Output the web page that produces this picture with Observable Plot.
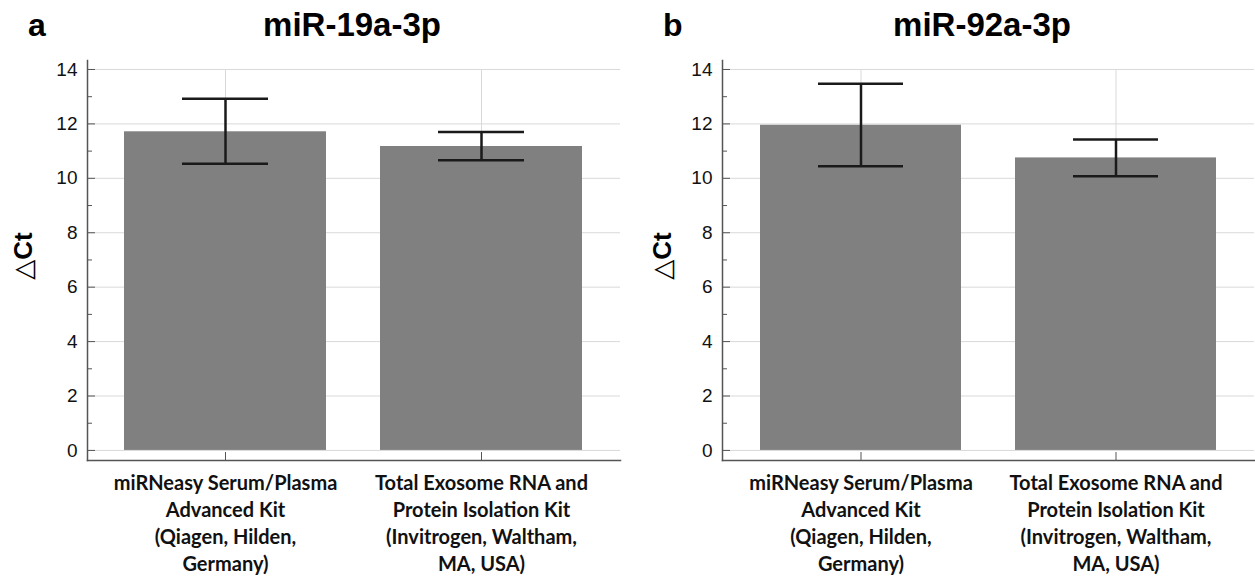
<!DOCTYPE html>
<html>
<head>
<meta charset="utf-8">
<script src="https://cdn.jsdelivr.net/npm/d3@7"></script>
<script src="https://cdn.jsdelivr.net/npm/@observablehq/plot@0.6"></script>
<style>
  html, body { margin: 0; padding: 0; background: #fff; }
  #wrap { position: relative; width: 1255px; height: 581px; overflow: hidden; background: #fff; }
  .panel { position: absolute; top: 0; height: 581px; }
  .letter { position: absolute; top: 9px; font: bold 32px "Liberation Sans", Arial, sans-serif; line-height: 32px; color: #000; }
  .title { position: absolute; top: 9px; font: bold 33px "Liberation Sans", Arial, sans-serif; line-height: 32px; color: #000; text-align: center; white-space: nowrap; transform: translateX(-50%); }
  .ylab { position: absolute; font: bold 26px "Liberation Sans", Arial, sans-serif; color: #000; white-space: nowrap; transform: translate(-50%, -50%) rotate(-90deg); }
  .ylab .tri { font-weight: normal; font-family: "DejaVu Sans", sans-serif; }
  .chart { position: absolute; top: 50px; left: 0; }
</style>
</head>
<body>
<div id="wrap"></div>
<script>
// ---- data ----
const categories = [
  "miRNeasy Serum/Plasma\nAdvanced Kit\n(Qiagen, Hilden,\nGermany)",
  "Total Exosome RNA and\nProtein Isolation Kit\n(Invitrogen, Waltham,\nMA, USA)"
];
const panelLetters = ["a", "b"];
const panelTitles = ["miR-19a-3p", "miR-92a-3p"];
const yLabelText = "Ct";
const yLabelSymbol = "△";

const meanA = [11.71, 11.17];
const upperA = [12.92, 11.70];
const lowerA = [10.54, 10.66];

const meanB = [11.95, 10.75];
const upperB = [13.48, 11.43];
const lowerB = [10.44, 10.08];

const majorTicks = [0, 2, 4, 6, 8, 10, 12, 14];
const minorTicks = [1, 3, 5, 7, 9, 11, 13];

// ---- layout ----
const layouts = [
  {left: 0, width: 627, marginLeft: 87, marginRight: 7, titleX: 352, letterX: 28, ylabX: 23},
  {left: 627, width: 628, marginLeft: 95, marginRight: 1, titleX: 355, letterX: 36, ylabX: 35}
];

function makeChart(means, uppers, lowers, L) {
  const data = categories.map((c, i) => ({c, m: means[i], hi: uppers[i], lo: lowers[i]}));
  const axisColor = "#555";
  const errColor = "#1a1a1a";
  return Plot.plot({
    width: L.width,
    height: 531,
    marginTop: 10,
    marginBottom: 121,
    marginLeft: L.marginLeft,
    marginRight: L.marginRight,
    style: {fontFamily: '"Liberation Sans", Arial, sans-serif', background: "#fff", color: "#111", overflow: "visible"},
    x: {domain: categories, paddingInner: 0.21, paddingOuter: 0.145, axis: null, label: null},
    y: {domain: [-0.37, 14.33], axis: null, label: null},
    marks: [
      Plot.ruleY(majorTicks, {stroke: "#d9d9d9", strokeWidth: 1}),
      Plot.ruleX(categories, {y1: 0, y2: 14, stroke: "#d9d9d9", strokeWidth: 1}),
      Plot.barY(data, {x: "c", y: "m", fill: "#808080"}),
      Plot.ruleX(data, {x: "c", y1: "lo", y2: "hi", stroke: errColor, strokeWidth: 2.5}),
      Plot.tickY(data, {x: "c", y: "hi", stroke: errColor, strokeWidth: 2.5, insetLeft: 58, insetRight: 58}),
      Plot.tickY(data, {x: "c", y: "lo", stroke: errColor, strokeWidth: 2.5, insetLeft: 58, insetRight: 58}),
      Plot.frame({anchor: "left", stroke: axisColor, strokeWidth: 1.5}),
      Plot.frame({anchor: "bottom", stroke: axisColor, strokeWidth: 1.5}),
      Plot.axisY({ticks: majorTicks, tickSize: -8, text: null, stroke: axisColor, label: null}),
      Plot.axisY({ticks: minorTicks, tickSize: -5, text: null, stroke: axisColor, label: null}),
      Plot.axisY({ticks: majorTicks, tickSize: 0, tickPadding: 10, fontSize: 19, tickFormat: d => String(d), label: null}),
      Plot.axisX({tickSize: -8, text: null, stroke: axisColor, label: null}),
      Plot.axisX({tickSize: 0, tickPadding: 10, fontSize: 20, lineHeight: 1.36,
        fontFamily: 'Lato, "Open Sans", sans-serif', fontWeight: 700, fill: "#111", label: null})
    ]
  });
}

const wrap = document.getElementById("wrap");
const series = [[meanA, upperA, lowerA], [meanB, upperB, lowerB]];
series.forEach(([m, u, l], i) => {
  const L = layouts[i];
  const p = document.createElement("div");
  p.className = "panel";
  p.style.left = L.left + "px";
  p.style.width = L.width + "px";

  const letter = document.createElement("div");
  letter.className = "letter";
  letter.style.left = L.letterX + "px";
  letter.textContent = panelLetters[i];
  p.appendChild(letter);

  const title = document.createElement("div");
  title.className = "title";
  title.style.left = L.titleX + "px";
  title.textContent = panelTitles[i];
  p.appendChild(title);

  const chart = makeChart(m, u, l, L);
  chart.classList.add("chart");
  p.appendChild(chart);

  const yl = document.createElement("div");
  yl.className = "ylab";
  yl.style.left = L.ylabX + "px";
  yl.style.top = "256px";
  const tri = document.createElement("span");
  tri.className = "tri";
  tri.textContent = yLabelSymbol;
  yl.appendChild(tri);
  yl.appendChild(document.createTextNode(yLabelText));
  p.appendChild(yl);

  wrap.appendChild(p);
});
</script>
</body>
</html>
